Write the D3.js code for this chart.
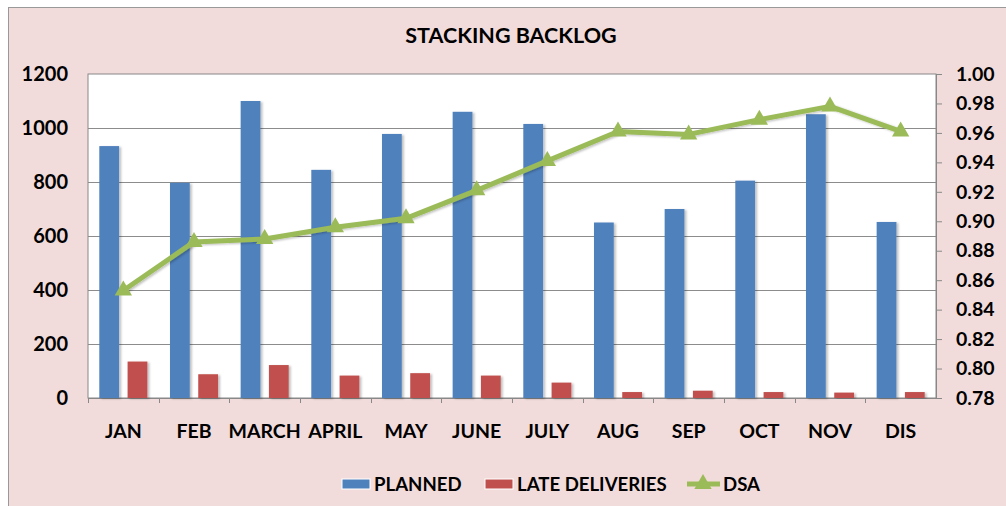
<!DOCTYPE html>
<html><head><meta charset="utf-8">
<script src="https://cdn.jsdelivr.net/npm/d3@7"></script>
<style>body{margin:0;background:#fff}text{font-family:Lato,"Open Sans",sans-serif;font-weight:bold;fill:#000}</style>
</head><body>
<svg id="c" width="1006" height="506"></svg>
<script>
const categories = ["JAN","FEB","MARCH","APRIL","MAY","JUNE","JULY","AUG","SEP","OCT","NOV","DIS"];
const planned = [933,797,1100,845,978,1060,1015,650,700,805,1051,652];
const lateDeliveries = [135,88,122,83,92,83,57,22,27,22,20,22];
const dsa = [0.853,0.886,0.888,0.896,0.902,0.921,0.941,0.961,0.959,0.969,0.978,0.961];
const leftTicks = [0,200,400,600,800,1000,1200];
const rightTicks = [0.78,0.80,0.82,0.84,0.86,0.88,0.90,0.92,0.94,0.96,0.98,1.00];

const svg = d3.select("#c");
const m={l:88,r:936,t:74,b:398};
const blue="#4F81BD", red="#C0504D", green="#9BBB59";
const FS=19.5;

svg.append("rect").attr("x",8.5).attr("y",7.5).attr("width",1010).attr("height",510)
  .attr("fill","#F2DCDB").attr("stroke","#999").attr("stroke-width",1);
svg.append("rect").attr("x",m.l).attr("y",m.t).attr("width",m.r-m.l).attr("height",m.b-m.t)
  .attr("fill","#fff").attr("stroke","#888");

const x = d3.scaleBand().domain(categories).range([m.l,m.r]).paddingInner(0).paddingOuter(0);
const xs = d3.scaleBand().domain(["p","l"]).range([0,x.bandwidth()]).paddingInner(0.3).paddingOuter(0.4);
const yL = d3.scaleLinear().domain([0,1200]).range([m.b,m.t]);
const yR = d3.scaleLinear().domain([0.78,1.00]).range([m.b,m.t]);

// gridlines
svg.append("g").selectAll("line").data(leftTicks.slice(1,-1)).join("line")
  .attr("x1",m.l).attr("x2",m.r).attr("y1",d=>yL(d)+0.5).attr("y2",d=>yL(d)+0.5)
  .attr("stroke","#8c8c8c").attr("stroke-width",1);

// left axis
const gl = svg.append("g").attr("transform",`translate(${m.l},0)`)
  .call(d3.axisLeft(yL).tickValues(leftTicks).tickSize(0).tickPadding(20).tickFormat(d3.format("d")));
gl.select(".domain").remove();
gl.selectAll("text").attr("font-size",FS+0.5).style("font-family","Lato,sans-serif").style("font-weight","bold");

// right axis
const gr = svg.append("g").attr("transform",`translate(${m.r},0)`)
  .call(d3.axisRight(yR).tickValues(rightTicks).tickSize(6).tickPadding(14).tickFormat(d3.format(".2f")));
gr.select(".domain").attr("stroke","#888");
gr.selectAll(".tick line").attr("stroke","#888");
gr.selectAll("text").attr("font-size",FS).style("font-family","Lato,sans-serif").style("font-weight","bold");

// x axis
const gx = svg.append("g").attr("transform",`translate(0,${m.b})`)
  .call(d3.axisBottom(x).tickSize(0).tickPadding(26));
gx.select(".domain").attr("stroke","#888");
gx.selectAll("text").attr("font-size",FS).style("font-family","Lato,sans-serif").style("font-weight","bold");
svg.append("g").selectAll("line").data(categories).join("line")
  .attr("x1",d=>Math.round(x(d))+0.5).attr("x2",d=>Math.round(x(d))+0.5)
  .attr("y1",m.b).attr("y2",m.b+5).attr("stroke","#888");

// shadow filter
const defs=svg.append("defs");
const f=defs.append("filter").attr("id","sh").attr("x","-20%").attr("y","-5%").attr("width","150%").attr("height","120%");
f.append("feDropShadow").attr("dx",2).attr("dy",1).attr("stdDeviation",1.2).attr("flood-color","#000").attr("flood-opacity",0.25);

// bars
svg.append("g").selectAll("rect").data(categories).join("rect")
  .attr("x",(d)=>x(d)+xs("p")).attr("width",xs.bandwidth())
  .attr("y",(d,i)=>yL(planned[i])).attr("height",(d,i)=>yL(0)-yL(planned[i]))
  .attr("fill",blue).attr("filter","url(#sh)");
svg.append("g").selectAll("rect").data(categories).join("rect")
  .attr("x",(d)=>x(d)+xs("l")).attr("width",xs.bandwidth())
  .attr("y",(d,i)=>yL(lateDeliveries[i])).attr("height",(d,i)=>yL(0)-yL(lateDeliveries[i]))
  .attr("fill",red).attr("filter","url(#sh)");

// line
const cx = d=>x(d)+x.bandwidth()/2;
const line = d3.line().x((d,i)=>cx(categories[i])).y(d=>yR(d));
svg.append("path").datum(dsa).attr("d",line).attr("fill","none").attr("stroke",green)
  .attr("stroke-width",5).attr("stroke-linejoin","round").attr("filter","url(#sh)");
const tri = d3.symbol().type(d3.symbolTriangle).size(130);
svg.append("g").selectAll("path").data(dsa).join("path")
  .attr("d",tri).attr("transform",(d,i)=>`translate(${cx(categories[i])},${yR(d)})`)
  .attr("fill",green);

// title
svg.append("text").attr("x",511).attr("y",43).attr("text-anchor","middle").attr("font-size",21.5).text("STACKING BACKLOG");

// legend
const LFS=18.6;
const lg = svg.append("g");
const ly=484;
lg.append("rect").attr("x",342).attr("y",ly-5).attr("width",28).attr("height",10).attr("fill",blue).attr("stroke","#fff");
lg.append("text").attr("x",374).attr("y",ly+7).attr("font-size",LFS).text("PLANNED");
lg.append("rect").attr("x",485).attr("y",ly-5).attr("width",28).attr("height",10).attr("fill",red).attr("stroke","#fff");
lg.append("text").attr("x",517).attr("y",ly+7).attr("font-size",LFS).text("LATE DELIVERIES");
lg.append("line").attr("x1",687).attr("x2",720).attr("y1",ly).attr("y2",ly).attr("stroke",green).attr("stroke-width",5);
lg.append("path").attr("d",tri).attr("transform",`translate(703,${ly})`).attr("fill",green);
lg.append("text").attr("x",723).attr("y",ly+7).attr("font-size",LFS).text("DSA");
</script>
</body></html>
